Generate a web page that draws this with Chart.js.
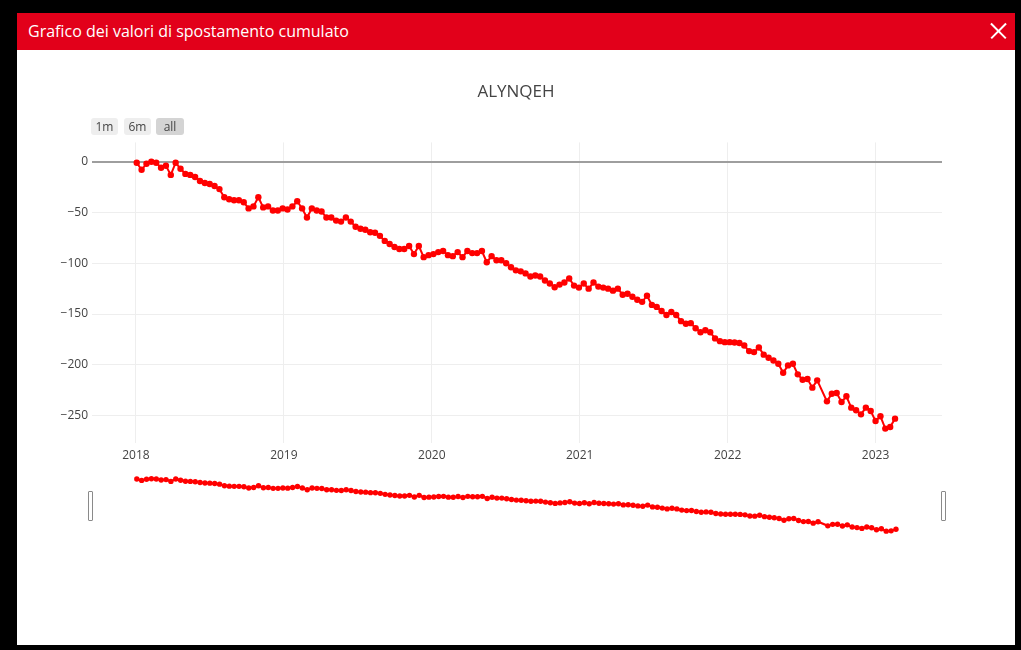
<!DOCTYPE html>
<html>
<head>
<meta charset="utf-8">
<script src="https://cdn.jsdelivr.net/npm/chart.js@4.4.1/dist/chart.umd.min.js"></script>
<style>
  body { margin: 0; width: 1021px; height: 650px; background: #000; overflow: hidden; font-family: 'Open Sans', sans-serif; }
  #modal { position: absolute; left: 17px; top: 13px; width: 998px; height: 632px; background: #fff; }
  #header { position: absolute; left: 0; top: 0; width: 998px; height: 37px; background: #e2001a; color: #fff;
            font: 16px 'Open Sans', sans-serif; line-height: 37px; }
  #header span { position: absolute; left: 11px; }
  .xline { position: absolute; left: 971px; top: 17px; width: 21px; height: 1.6px; background: #fff; }
  .btn { position: absolute; top: 118px; height: 17px; line-height: 17px; background: #eee; color: #444;
         font: 12px 'Open Sans', sans-serif; text-align: center; border-radius: 3px; }
  .handle { position: absolute; top: 491px; width: 3px; height: 28px; border: 1px solid #8a8a8a; border-radius: 1px; background: #fff; }
  canvas { position: absolute; }
</style>
</head>
<body>
<div id="modal">
  <div id="header"><span>Grafico dei valori di spostamento cumulato</span>
    <div class="xline" style="transform: rotate(45deg)"></div>
    <div class="xline" style="transform: rotate(-45deg)"></div>
  </div>
</div>
<canvas id="mainChart" width="998" height="420" style="left:17px;top:50px"></canvas>
<canvas id="sliderChart" width="998" height="80" style="left:17px;top:465px"></canvas>
<div class="btn" style="left:91px;width:27px">1m</div>
<div class="btn" style="left:124px;width:27px">6m</div>
<div class="btn" style="left:156px;width:28px;background:#d4d4d4">all</div>
<div class="handle" style="left:88px"></div>
<div class="handle" style="left:941px"></div>
<script>
const seriesName = 'ALYNQEH';

// acquisition dates
const dates = [
  '2018-01-03','2018-01-15','2018-01-27','2018-02-08','2018-02-20','2018-03-04','2018-03-16','2018-03-28',
  '2018-04-09','2018-04-21','2018-05-03','2018-05-15','2018-05-27','2018-06-08','2018-06-20','2018-07-02',
  '2018-07-14','2018-07-26','2018-08-07','2018-08-19','2018-08-31','2018-09-12','2018-09-24','2018-10-06',
  '2018-10-18','2018-10-30','2018-11-11','2018-11-23','2018-12-05','2018-12-17','2018-12-29',
  '2019-01-10','2019-01-22','2019-02-03','2019-02-15','2019-02-27','2019-03-11','2019-03-23','2019-04-04',
  '2019-04-16','2019-04-28','2019-05-10','2019-05-22','2019-06-03','2019-06-15','2019-06-27','2019-07-09',
  '2019-07-21','2019-08-02','2019-08-14','2019-08-26','2019-09-07','2019-09-19','2019-10-01','2019-10-13',
  '2019-10-25','2019-11-06','2019-11-18','2019-11-30','2019-12-12','2019-12-24',
  '2020-01-05','2020-01-17','2020-01-29','2020-02-10','2020-02-22','2020-03-05','2020-03-17','2020-03-29',
  '2020-04-10','2020-04-22','2020-05-04','2020-05-16','2020-05-28','2020-06-09','2020-06-21','2020-07-03',
  '2020-07-15','2020-07-27','2020-08-08','2020-08-20','2020-09-01','2020-09-13','2020-09-25','2020-10-07',
  '2020-10-19','2020-10-31','2020-11-12','2020-11-24','2020-12-06','2020-12-18','2020-12-30',
  '2021-01-11','2021-01-23','2021-02-04','2021-02-16','2021-02-28','2021-03-12','2021-03-24','2021-04-05',
  '2021-04-17','2021-04-29','2021-05-11','2021-05-23','2021-06-04','2021-06-16','2021-06-28','2021-07-10',
  '2021-07-22','2021-08-03','2021-08-15','2021-08-27','2021-09-08','2021-09-20','2021-10-02','2021-10-14',
  '2021-10-26','2021-11-07','2021-11-19','2021-12-01','2021-12-13','2021-12-25',
  '2022-01-06','2022-01-18','2022-01-30','2022-02-11','2022-02-23','2022-03-07','2022-03-19','2022-03-31',
  '2022-04-12','2022-04-24','2022-05-06','2022-05-18','2022-05-30','2022-06-11','2022-06-23','2022-07-05',
  '2022-07-17','2022-07-29','2022-08-10','2022-09-03','2022-09-15','2022-09-27','2022-10-09','2022-10-21',
  '2022-11-02','2022-11-14','2022-11-26','2022-12-08','2022-12-20',
  '2023-01-01','2023-01-13','2023-01-25','2023-02-06','2023-02-18'
];

// cumulative displacement (mm)
const displacement = [
  -1, -8, -2, 0, -1, -6, -4, -13, -1, -7, -12, -13, -15, -19, -21, -22, -24, -27, -35, -37, -38, -38, -40,
  -46, -44, -35, -45, -44, -48, -48, -46,
  -47, -44, -39, -46, -55, -46, -48, -49, -55, -55, -58, -59, -55, -59, -64, -66, -67, -69.5, -70, -73,
  -78, -81, -84, -86, -86, -83, -91, -83, -94, -92,
  -91, -89, -88, -92, -93, -89, -94, -88, -90, -90, -88, -99, -93, -97, -97, -100, -104, -107, -108, -110,
  -113, -112, -113, -117, -120, -123.6, -121, -119, -115, -122, -124,
  -120, -125, -119, -123, -124, -125, -127, -125, -131, -130, -133, -136, -138, -132, -141, -143, -147,
  -151, -148, -151, -157, -159.6, -159, -164, -168, -166, -168, -174, -176.7, -177.7,
  -177.7, -178, -178.6, -181, -186.5, -187.5, -183, -190, -193, -195.7, -199, -207.8, -200.6, -199, -209.4,
  -214.7, -214, -222.5, -215.3, -236, -228.5, -227.8, -236.7, -231, -242.2, -244.8, -248.8, -242.2, -245.5,
  -255.4, -250.7, -262.8, -261.2, -253
];

const yearTicks = [2018, 2019, 2020, 2021, 2022, 2023];
const valueTicks = [0, -50, -100, -150, -200, -250];

function toYear(s) {
  const [y, m, d] = s.split('-').map(Number);
  const start = Date.UTC(y, 0, 1);
  const end = Date.UTC(y + 1, 0, 1);
  return y + (Date.UTC(y, m - 1, d) - start) / (end - start);
}

const points = dates.map((d, i) => ({ x: toYear(d), y: displacement[i] }));

const xMin = 2017.703, xMax = 2023.449;
const yMin = -277, yMax = 19;
const tickFont = { family: "'Open Sans', sans-serif", size: 12 };

new Chart(document.getElementById('mainChart').getContext('2d'), {
  type: 'line',
  data: {
    datasets: [{
      label: seriesName,
      data: points,
      borderColor: '#ff0000',
      backgroundColor: '#ff0000',
      borderWidth: 2,
      pointRadius: 3.2,
      pointBorderWidth: 0,
      pointHoverRadius: 3,
      tension: 0
    }]
  },
  options: {
    responsive: false,
    animation: false,
    layout: { padding: 0 },
    plugins: {
      legend: { display: false },
      tooltip: { enabled: false },
      title: {
        display: true,
        text: seriesName,
        color: '#444',
        font: { family: "'Open Sans', sans-serif", size: 17, weight: 'normal' },
        padding: { top: 32, bottom: 40 }
      }
    },
    scales: {
      x: {
        type: 'linear',
        min: xMin,
        max: xMax,
        afterBuildTicks: s => { s.ticks = yearTicks.map(v => ({ value: v })); },
        afterFit: s => { s.height = 27; },
        grid: { color: '#eeeeee', drawTicks: false },
        border: { display: false },
        ticks: { color: '#444', font: tickFont, padding: 5, callback: v => String(v) }
      },
      y: {
        min: yMin,
        max: yMax,
        afterBuildTicks: s => { s.ticks = valueTicks.map(v => ({ value: v })); },
        afterFit: s => { s.width = 75; },
        grid: {
          color: c => c.tick && c.tick.value === 0 ? '#9e9e9e' : '#eeeeee',
          lineWidth: c => c.tick && c.tick.value === 0 ? 2 : 1,
          drawTicks: false
        },
        border: { display: false },
        ticks: { color: '#444', font: tickFont, padding: 4,
                 callback: v => v < 0 ? '\u2212' + (-v) : String(v) }
      },
      // empty right margin so the title stays centred on the whole canvas
      yRight: {
        position: 'right',
        min: yMin,
        max: yMax,
        afterFit: s => { s.width = 73; },
        grid: { display: false },
        border: { display: false },
        ticks: { display: false }
      }
    }
  }
});

// range slider preview
new Chart(document.getElementById('sliderChart').getContext('2d'), {
  type: 'line',
  data: {
    datasets: [{
      data: points,
      borderColor: '#ff0000',
      backgroundColor: '#ff0000',
      borderWidth: 2.2,
      pointRadius: 2.7,
      pointBorderWidth: 0,
      tension: 0
    }]
  },
  options: {
    responsive: false,
    animation: false,
    layout: { padding: { left: 75, right: 72, top: 10, bottom: 11 } },
    plugins: { legend: { display: false }, tooltip: { enabled: false } },
    scales: {
      x: { type: 'linear', min: xMin, max: xMax, display: false },
      y: { min: yMin, max: yMax, display: false }
    }
  }
});
</script>
</body>
</html>
